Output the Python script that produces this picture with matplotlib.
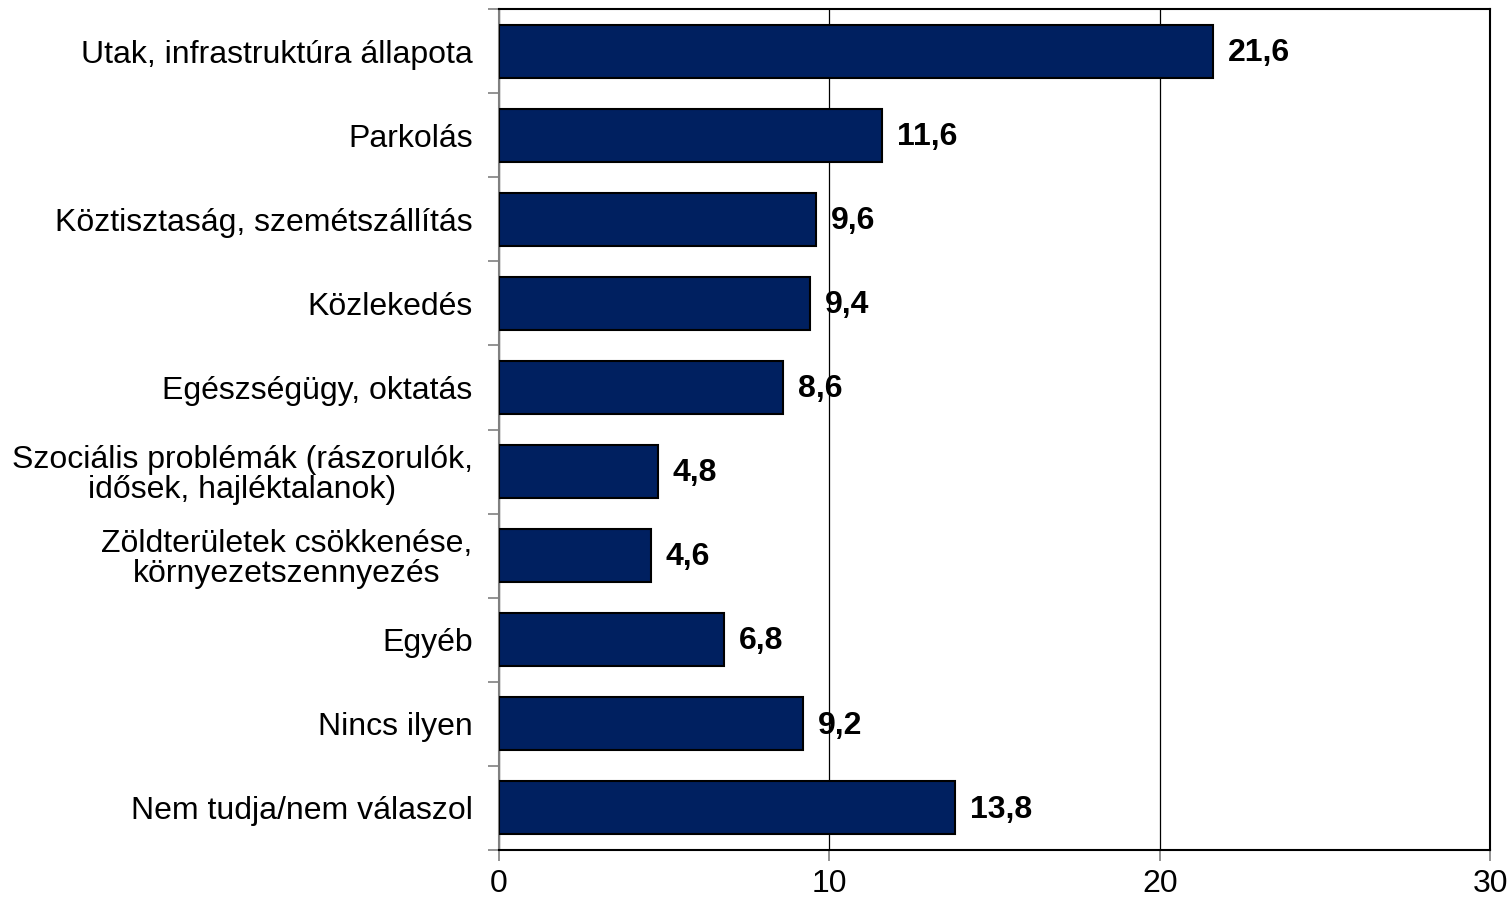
import matplotlib.pyplot as plt
import numpy as np

categories = [
    "Utak, infrastruktúra állapota",
    "Parkolás",
    "Köztisztaság, szemétszállítás",
    "Közlekedés",
    "Egészségügy, oktatás",
    "Szociális problémák (rászorulók,\nidősek, hajléktalanok)",
    "Zöldterületek csökkenése,\nkörnyezetszennyezés",
    "Egyéb",
    "Nincs ilyen",
    "Nem tudja/nem válaszol",
]
values = [21.6, 11.6, 9.6, 9.4, 8.6, 4.8, 4.6, 6.8, 9.2, 13.8]
x_ticks = [0, 10, 20, 30]

plt.rcParams["font.family"] = ["Liberation Sans", "DejaVu Sans"]

fig = plt.figure(figsize=(15.12, 9.01), dpi=100)
ax = fig.add_axes([0.330, 0.0566, 0.6555, 0.9334])

n = len(categories)
ypos = np.arange(n)
ax.barh(ypos, values, height=0.63, color="#002060", edgecolor="black",
        linewidth=1.5, zorder=3)

for y, v in zip(ypos, values):
    ax.text(v + 0.45, y + 0.02, f"{v:.1f}".replace(".", ","), va="center",
            ha="left", fontsize=23, fontweight="bold", zorder=4)

ax.set_xlim(0, 30)
ax.set_ylim(n - 0.5, -0.5)
ax.set_xticks(x_ticks)
ax.set_xticklabels([str(t) for t in x_ticks], fontsize=23)
ax.xaxis.grid(True, color="black", linewidth=0.9, zorder=0)

ax.set_yticks(ypos)
ax.set_yticklabels(categories, fontsize=23, linespacing=1.0,
                   multialignment="center")
ax.tick_params(axis="y", length=0, pad=19)
ax.set_yticks(np.arange(-0.5, n + 0.5, 1), minor=True)
ax.tick_params(axis="y", which="minor", length=8, color="#808080", width=1.2)
ax.tick_params(axis="x", length=8, color="#808080", width=1.2, pad=6)

for side in ["top", "right", "bottom"]:
    ax.spines[side].set_color("black")
    ax.spines[side].set_linewidth(1.5)
ax.spines["left"].set_color("#808080")
ax.spines["left"].set_linewidth(1.5)

fig.savefig("out.png", dpi=100)
